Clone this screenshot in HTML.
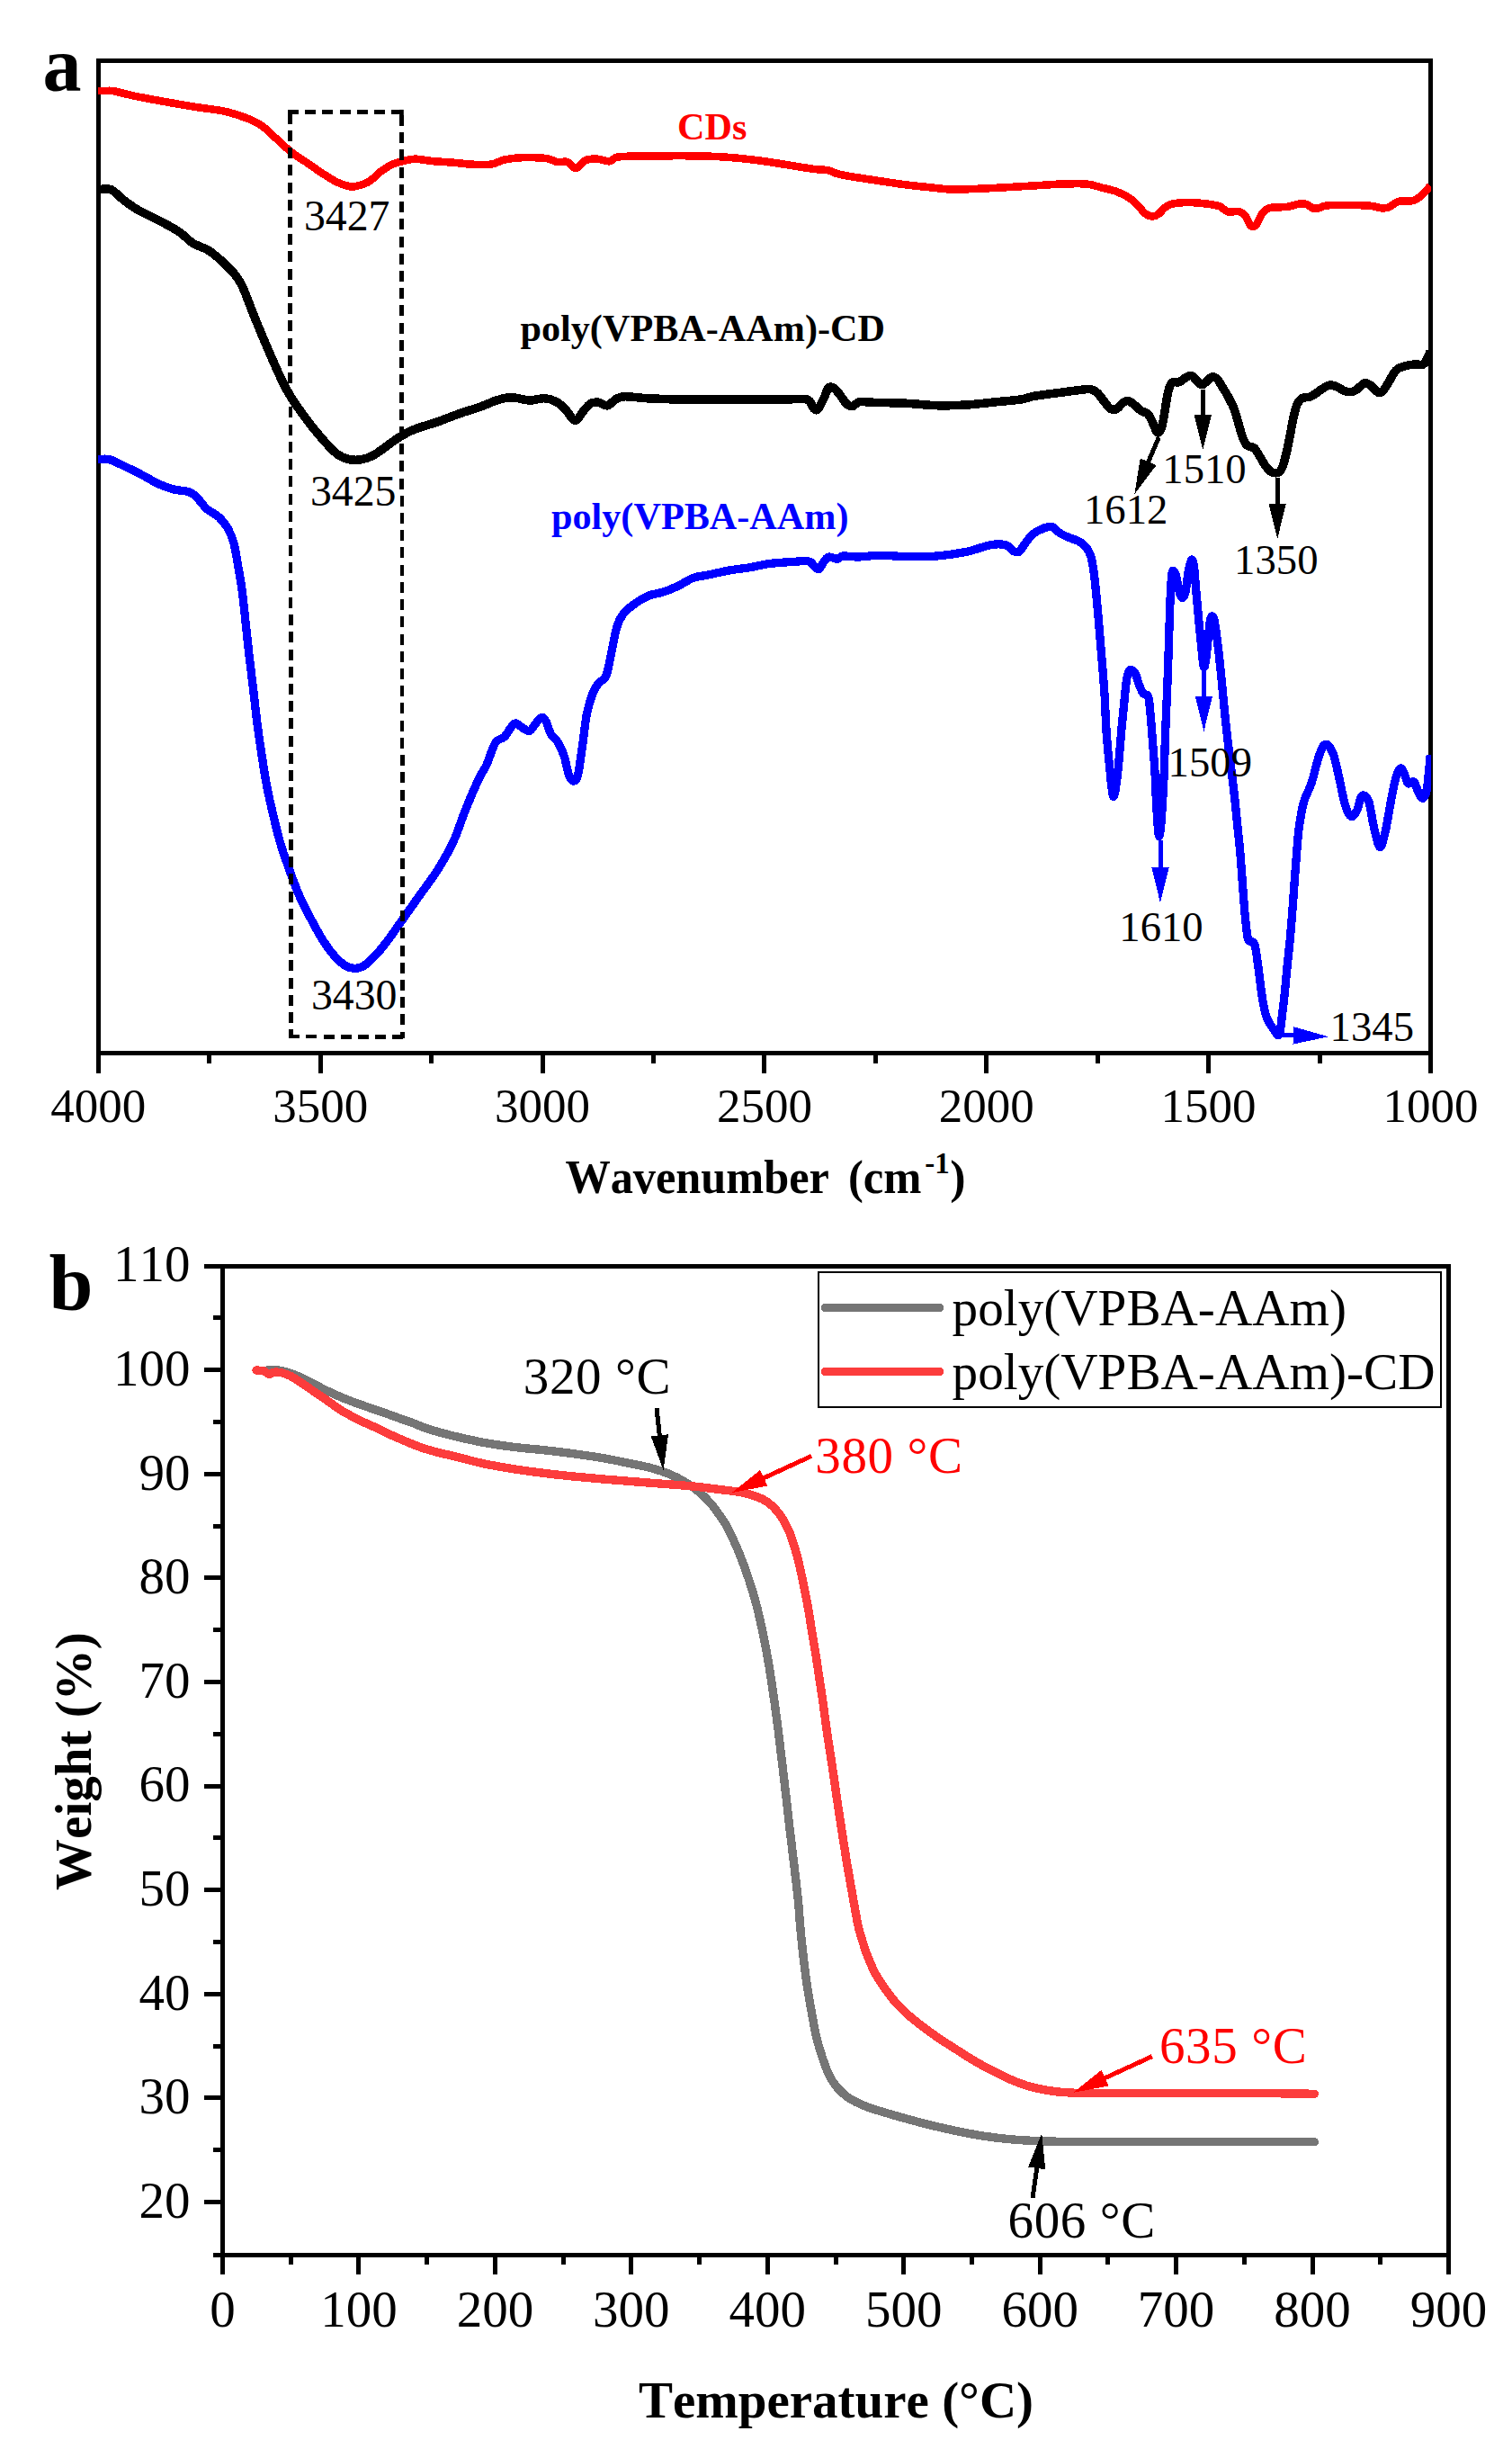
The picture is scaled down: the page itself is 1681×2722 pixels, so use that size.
<!DOCTYPE html>
<html lang="en"><head><meta charset="utf-8"><title>FTIR and TGA</title>
<style>html,body{margin:0;padding:0;background:#fff}svg{display:block}</style></head>
<body>
<svg width="1681" height="2722" viewBox="0 0 1681 2722">
<rect width="1681" height="2722" fill="#fff"/>
<rect x="109.5" y="67.5" width="1481" height="1102.5" fill="none" stroke="#000" stroke-width="5" shape-rendering="crispEdges"/>
<path d="M109.5,1170 V1193 M232.7,1170 V1182 M356.2,1170 V1193 M479.6,1170 V1182 M603,1170 V1193 M726.5,1170 V1182 M849.9,1170 V1193 M973.3,1170 V1182 M1096.8,1170 V1193 M1220.2,1170 V1182 M1343.6,1170 V1193 M1467.1,1170 V1182 M1590.5,1170 V1193" stroke="#000" stroke-width="5" fill="none" shape-rendering="crispEdges"/>
<g fill="none" stroke-linejoin="round" stroke-linecap="butt" shape-rendering="crispEdges">
<clipPath id="ca"><rect x="108.9" y="67.5" width="1482.2" height="1102.5"/></clipPath>
<g clip-path="url(#ca)">
<path d="M109.3,100.9C110.8,100.9 115.1,100.8 118,100.9C120.9,101 121.4,100.3 126.7,101.3C132,102.3 140.6,104.8 150,106.8C159.4,108.8 171.9,111 183,113C194.1,115 205.5,117 216.7,118.8C227.9,120.6 240.6,121.8 250,123.8C259.4,125.8 266.6,128.5 273.3,131C280,133.5 284.4,135.2 290,139C295.6,142.8 301.1,148.8 306.7,153.7C312.2,158.6 317.8,164.2 323.3,168.6C328.9,173 334.4,176.2 340,180C345.6,183.8 351.1,187.9 356.7,191.5C362.2,195.1 368.3,199.3 373.3,201.8C378.3,204.3 383.2,205.8 386.7,206.7C390.1,207.6 390.1,208.1 394,207.3C397.9,206.5 405.1,204.8 410,202C414.9,199.2 418.9,193.8 423.3,190.5C427.8,187.2 432.5,184.4 436.7,182.5C440.9,180.6 444.1,180 448.3,179C452.5,178 456.4,176.7 461.7,176.7C467,176.7 472.9,178.3 480,179C487.1,179.7 496.7,180.1 504,180.7C511.3,181.3 517,182.4 524,182.7C531,183 539.6,183.5 545.7,182.7C551.8,181.8 555.4,178.8 560.7,177.6C566,176.4 569.5,175.6 577.3,175.3C585.1,175 600.3,175.2 607.3,176C614.2,176.8 615.1,179.3 619,180C622.9,180.7 627.7,179 630.7,180C633.8,181 635.4,185 637.3,186C639.2,187 640.1,187.3 642.3,186C644.5,184.7 647.1,179.9 650.7,178.3C654.3,176.8 659.6,176.5 664,176.7C668.4,176.9 673.7,179.6 677.3,179.3C680.9,179 681.2,175.8 685.7,174.8C690.2,173.9 695.4,173.8 704,173.6C712.6,173.3 726.2,173.4 737.3,173.3C748.4,173.2 759.6,173.1 770.7,173.3C781.8,173.5 792.9,173.7 804,174.4C815.1,175.1 826.2,176.2 837.3,177.6C848.4,178.9 859.6,180.8 870.7,182.5C881.8,184.2 895.7,186.7 904,187.8C912.3,188.9 915.7,188.3 920.7,189.3C925.7,190.3 925.7,192.2 934,194C942.3,195.8 958.4,198.1 970.7,200C983,201.9 997.3,204.1 1008,205.5C1018.7,206.9 1026.4,207.5 1034.7,208.3C1043,209.2 1049.7,210.3 1058,210.6C1066.3,210.9 1073.6,210.3 1084.7,209.9C1095.8,209.5 1112.5,208.6 1124.7,207.9C1136.9,207.2 1148.6,206.5 1158,205.9C1167.4,205.3 1173,204.7 1181.3,204.5C1189.6,204.3 1200.8,203.8 1208,204.5C1215.2,205.2 1219.2,207.1 1224.7,208.5C1230.2,209.9 1236.3,211.1 1241.3,212.9C1246.3,214.7 1250.8,217 1254.7,219.5C1258.6,222 1261.7,225 1264.7,227.9C1267.8,230.8 1270.2,235.1 1273,237.2C1275.8,239.3 1278.8,240.4 1281.3,240.5C1283.8,240.6 1285.8,239.5 1288,237.9C1290.2,236.3 1292.5,233 1294.7,231.2C1296.9,229.4 1298,228.2 1301.3,227.2C1304.6,226.2 1309.7,225.5 1314.7,225.2C1319.7,224.9 1324.6,224.9 1331.3,225.5C1338,226.1 1349.1,227.3 1354.7,228.9C1360.3,230.5 1360.8,234.1 1364.7,235.2C1368.6,236.2 1374.7,234.3 1378,235.2C1381.3,236.1 1382.8,238.1 1384.7,240.5C1386.7,242.9 1388.3,247.9 1389.7,249.8C1391.1,251.8 1391.7,252.4 1393,252.2C1394.3,252 1395.6,251.2 1397.3,248.8C1399,246.4 1400.7,240.7 1403,237.8C1405.3,234.9 1406.6,232.5 1411.3,231.2C1416,229.9 1425.7,230.6 1431.3,229.8C1436.9,229 1441.1,226.9 1444.7,226.5C1448.3,226.1 1450.5,226.4 1453,227.2C1455.5,228 1457.5,230.8 1459.7,231.5C1461.9,232.2 1463.8,231.7 1466.3,231.2C1468.8,230.7 1470.1,229.1 1474.7,228.5C1479.3,227.9 1485.5,227.8 1493.7,227.8C1501.9,227.9 1516.8,228.2 1523.7,228.8C1530.6,229.4 1532,230.9 1535.3,231.2C1538.6,231.5 1540.4,231.7 1543.7,230.5C1547,229.3 1550.9,225 1555.3,223.8C1559.7,222.6 1566.4,224 1570.3,223.2C1574.2,222.4 1575.4,221.6 1578.7,218.8C1582,216 1588.4,208.6 1590.3,206.5" stroke="#ff0000" stroke-width="8.6"/>
<path d="M109.3,210.7C111.6,210.7 118.7,208.9 123.3,210.7C127.9,212.5 131.7,217.9 136.7,221.7C141.7,225.5 146.1,229.1 153.3,233.3C160.5,237.5 172.2,242.5 180,246.7C187.8,250.9 194.2,254.3 200,258.3C205.8,262.3 209.4,267.2 215,270.7C220.6,274.2 226.4,274.4 233.3,279.3C240.2,284.2 250.8,293.8 256.7,300C262.6,306.2 264.5,308.4 268.7,316.7C272.9,325 277,337.8 282,350C287,362.2 292.6,376.1 298.7,390C304.8,403.9 312,421.1 318.7,433.3C325.4,445.5 332,454.1 338.7,463.3C345.4,472.5 352.6,481.4 358.7,488.3C364.8,495.2 370.3,501.3 375.3,505C380.3,508.7 384.2,509.8 388.7,510.7C393.1,511.6 397.6,511.5 402,510.7C406.4,509.9 410.9,508.3 415.3,506C419.8,503.7 423.7,500.2 428.7,496.7C433.7,493.2 439.8,488.3 445.3,485C450.9,481.7 455.3,479.3 462,476.7C468.7,474.1 477,472.2 485.3,469.3C493.6,466.4 503.7,462.2 512,459.3C520.3,456.4 528.6,454.1 535.3,451.7C542,449.3 546.4,446.7 552,445C557.6,443.3 562.6,441.7 568.7,441.7C574.8,441.7 582.6,444.8 588.7,445C594.8,445.2 600.3,442.4 605.3,442.7C610.3,443 614.8,444.6 618.7,446.7C622.6,448.8 625.7,451.8 628.7,455C631.8,458.2 634.8,464.2 637,466C639.2,467.8 640,467.6 642,466C644,464.4 646.2,459.6 648.7,456.7C651.2,453.8 654.2,449.9 657,448.3C659.8,446.7 662.2,446.9 665.3,447.3C668.3,447.7 672,451.4 675.3,450.7C678.6,450 682,445 685.3,443.3C688.6,441.6 689.7,440.8 695.3,440.7C700.9,440.6 708.6,442.1 718.7,442.7C728.8,443.2 741.8,443.8 756,444C770.2,444.2 784.9,444 804,444C823.1,444 855.2,444 870.7,444C886.2,444 891.8,442.4 897.3,444C902.8,445.6 902,451.5 904,453.3C906,455.1 907,456.7 909,455C911,453.3 913.8,447.2 915.7,443.3C917.7,439.4 919,433.8 920.7,431.7C922.4,429.6 923.8,429.9 925.7,430.7C927.6,431.5 929.8,433.8 932.3,436.7C934.8,439.6 938.2,445.8 940.7,448.3C943.2,450.8 944.8,452 947.3,451.7C949.8,451.4 951.8,447.4 955.7,446.7C959.6,446 962,447 970.7,447.3C979.4,447.6 996.2,447.7 1008,448.3C1019.8,448.9 1030.2,450.4 1041.3,450.7C1052.4,451 1063.6,450.7 1074.7,450C1085.8,449.3 1098,447.7 1108,446.7C1118,445.7 1127.5,445.1 1134.7,444C1141.9,442.9 1143.5,441.3 1151.3,440C1159.1,438.7 1173.2,437.1 1181.3,436C1189.4,434.9 1194.9,434.2 1200,433.6C1205.1,433 1208.6,432.1 1211.9,432.6C1215.2,433.1 1217.2,434.2 1219.8,436.5C1222.4,438.8 1225.3,443.5 1227.8,446.5C1230.3,449.5 1232.4,453.1 1234.7,454.4C1237,455.7 1239.4,455.5 1241.7,454.4C1244,453.2 1246.4,449 1248.6,447.5C1250.8,446 1252.4,445 1254.6,445.5C1256.8,446 1259.2,448.6 1261.5,450.4C1263.8,452.2 1266,454.7 1268.5,456.4C1271,458.1 1274.3,458.2 1276.4,460.4C1278.5,462.5 1279.7,466 1281.3,469.3C1282.9,472.6 1284.8,478.7 1286.3,480.2C1287.8,481.7 1289.1,480.3 1290.3,478.2C1291.5,476.1 1292.3,472.1 1293.3,467.3C1294.3,462.5 1295.2,455 1296.2,449.4C1297.2,443.8 1298,437.6 1299.2,433.6C1300.4,429.6 1301.2,426.7 1303.2,425.2C1305.2,423.7 1308.6,425.5 1311.1,424.6C1313.6,423.7 1315.8,420.9 1318.1,419.7C1320.4,418.5 1323,417.2 1325,417.7C1327,418.2 1328.2,421 1330,422.7C1331.8,424.4 1334.1,427.3 1335.9,427.6C1337.7,427.9 1339.1,426 1340.9,424.6C1342.7,423.2 1344.8,420 1346.8,419.3C1348.8,418.6 1350.8,419 1352.8,420.7C1354.8,422.4 1356.5,426.1 1358.7,429.6C1360.9,433.1 1363.6,437.5 1365.7,441.5C1367.8,445.5 1369.8,448.8 1371.6,453.4C1373.4,458 1374.9,463.8 1376.6,469.3C1378.2,474.8 1379.8,481.9 1381.5,486.2C1383.2,490.5 1384.3,493.1 1386.5,495.1C1388.7,497.1 1392.1,496.1 1394.4,498.1C1396.7,500.1 1398.4,503.9 1400.4,507C1402.4,510.1 1404.3,514.1 1406.3,516.9C1408.3,519.7 1410.3,522.3 1412.3,523.8C1414.3,525.3 1416.5,525.8 1418.3,525.8C1420.1,525.8 1421.7,525.6 1423.2,523.8C1424.7,522 1425.9,519 1427.2,514.9C1428.5,510.8 1429.9,504.9 1431.2,499C1432.5,493.1 1433.8,485.8 1435.1,479.2C1436.4,472.6 1437.8,464.7 1439.1,459.4C1440.4,454.1 1441.6,450.3 1443.1,447.5C1444.6,444.7 1445.5,443.7 1448,442.5C1450.5,441.3 1454.6,442 1457.9,440.5C1461.2,439 1464.6,435.7 1467.9,433.6C1471.2,431.6 1474.8,428.9 1477.8,428.2C1480.8,427.5 1483,428.6 1485.7,429.6C1488.4,430.6 1491.3,433 1493.7,434C1496.1,435 1497.8,435.6 1500,435.6C1502.2,435.6 1504.2,435.6 1507,434C1509.8,432.4 1514.2,426.9 1517,426C1519.8,425.1 1521.2,426.6 1523.7,428.3C1526.2,430 1529.8,434.9 1532,436C1534.2,437.1 1535,436.8 1537,435C1539,433.2 1541.2,428.9 1543.7,425C1546.2,421.1 1549.2,414.6 1552,411.7C1554.8,408.8 1557,408.4 1560.3,407.3C1563.6,406.2 1568.4,405.4 1572,405C1575.6,404.6 1579.5,406.1 1582,405C1584.5,403.9 1585.6,400.8 1587,398.3C1588.4,395.8 1589.8,391.4 1590.3,390" stroke="#000" stroke-width="9.6"/>
<path d="M109.3,510.7C111.4,510.7 116.6,509.3 121.7,510.7C126.8,512.1 133.6,516 140,519C146.4,522 153.9,525.8 160,529C166.1,532.2 171.1,535.5 176.7,538C182.2,540.5 187.8,542.5 193.3,544C198.9,545.5 205.8,545.3 210,546.7C214.2,548.1 215,549.1 218.3,552.3C221.6,555.5 225.8,562 230,565.7C234.2,569.4 239.4,571.1 243.3,574.7C247.2,578.3 250.5,582.4 253.3,587.3C256.1,592.2 258.1,596.8 260,604C261.9,611.2 263.4,621.8 265,630.7C266.6,639.6 267.9,646.8 269.3,657.3C270.7,667.8 272,681.8 273.3,694C274.6,706.2 275.9,718.5 277.3,730.7C278.7,742.9 280.2,755.1 281.7,767.3C283.1,779.5 284.5,792.3 286,804C287.5,815.7 288.9,825.6 290.7,837.3C292.5,849 294.6,862.9 296.7,874C298.8,885.1 300.8,893.5 303.3,904C305.8,914.5 308.6,926.8 311.7,937.3C314.8,947.8 318.1,956.8 321.7,966.7C325.3,976.6 329.1,987.3 333.3,996.7C337.5,1006.1 342.2,1015 346.7,1023.3C351.1,1031.6 355.7,1040 360,1046.7C364.3,1053.4 368.6,1058.9 372.5,1063.3C376.4,1067.7 380,1070.8 383.5,1073C387,1075.2 390.3,1076.1 393.7,1076.3C397.1,1076.5 400,1076.2 403.7,1074C407.4,1071.8 411.6,1067.8 416,1063.3C420.4,1058.8 424.9,1053.4 430,1046.7C435.1,1040 440.6,1031.9 446.7,1023.3C452.8,1014.7 460,1004.4 466.7,995C473.4,985.6 480.5,976.6 486.7,966.7C492.9,956.8 498.9,946.5 504,935.5C509.1,924.5 512.6,912.3 517.3,900.7C522,889.1 528.4,874 532.3,865.7C536.2,857.4 537.6,857.4 540.7,850.7C543.8,844 547.4,831 550.7,825.7C554,820.4 557.7,822.1 560.7,819C563.8,815.9 566.8,809.8 569,807.3C571.2,804.8 571.8,803.5 574,804C576.2,804.5 579.8,808.6 582.3,810C584.8,811.4 586.8,813.3 589,812.3C591.2,811.3 593.5,806.5 595.7,804C597.9,801.5 600.4,797.6 602.3,797.3C604.2,797 605.6,799.2 607.3,802.3C609,805.4 610.1,811.8 612.3,815.7C614.5,819.6 618.2,821.5 620.7,825.7C623.2,829.9 625.4,834.9 627.3,840.7C629.2,846.5 630.6,856.2 632.3,860.7C634,865.2 635.6,867.7 637.3,868C639,868.3 640.6,868.5 642.3,862.3C644,856.1 645.6,842.1 647.3,830.7C649,819.3 650.3,804 652.3,794C654.2,784 656.8,776.5 659,770.7C661.2,764.9 663.2,762.3 665.7,759C668.2,755.7 671.5,757.1 674,750.7C676.5,744.3 678.8,729.6 680.7,720.7C682.7,711.8 683.8,703.5 685.7,697.3C687.6,691.1 689.2,687.5 692.3,683.3C695.3,679.1 699.3,675.8 704,672.3C708.7,668.8 715.2,664.7 720.7,662.3C726.2,659.9 731.8,659.8 737.3,658C742.8,656.2 748.4,653.9 754,651.3C759.6,648.7 765.2,644.3 770.7,642.3C776.2,640.2 780.6,640.4 787.3,639C794,637.6 802.9,635.4 810.7,634C818.5,632.6 826.8,631.9 834,630.7C841.2,629.5 846.8,627.7 854,626.7C861.2,625.7 869.8,625.2 877.3,624.7C884.8,624.2 894.3,623.1 899,624C903.7,624.9 903.8,628.6 905.7,630C907.7,631.4 908.8,633.6 910.7,632.3C912.6,631 915.4,624.5 917.3,622.3C919.2,620.1 920.1,619.2 922.3,619C924.5,618.8 928.2,621.5 930.7,621.3C933.2,621.1 933.4,618.4 937.3,618C941.2,617.6 947.3,619.1 954,619C960.7,618.9 968.3,617.4 977.3,617.3C986.3,617.2 997.3,618.4 1008,618.5C1018.7,618.6 1030.2,618.9 1041.3,618C1052.4,617.1 1064.7,615.3 1074.7,613.3C1084.7,611.2 1094.1,607 1101.3,605.7C1108.5,604.4 1113.8,604.6 1118,605.7C1122.2,606.8 1123.8,611 1126.3,612.3C1128.8,613.6 1130.8,614.7 1133,613.3C1135.2,611.9 1137.2,607.2 1139.7,604C1142.2,600.8 1144.7,596.8 1148,594C1151.3,591.2 1156.1,588.7 1159.7,587.3C1163.3,585.9 1166.7,584.9 1169.7,585.7C1172.8,586.5 1175,590.4 1178,592.3C1181,594.2 1184.4,595.7 1188,597.3C1191.6,598.9 1196.2,599.9 1199.5,601.7C1202.8,603.5 1205.2,605.2 1207.5,608.1C1209.8,611 1211.5,614.4 1213,619.2C1214.5,624 1215.3,630.1 1216.2,636.7C1217.1,643.3 1217.8,651 1218.6,658.9C1219.4,666.8 1220.2,675.3 1221,684.3C1221.8,693.3 1222.5,703.4 1223.3,712.9C1224.1,722.4 1224.9,731.3 1225.7,741.4C1226.5,751.5 1227.3,760.9 1228.1,773.2C1228.8,785.5 1229.3,801.6 1230.2,815C1231.1,828.4 1232.7,843.4 1233.7,853.5C1234.7,863.6 1235.3,870.4 1236,875.7C1236.7,881 1236.9,884.7 1237.6,885.2C1238.3,885.7 1239.1,884.2 1240,878.9C1240.9,873.6 1242.1,864.1 1243.2,853.5C1244.3,842.9 1245.5,826.5 1246.5,815C1247.5,803.5 1248.6,793.4 1249.5,784.3C1250.4,775.2 1251.1,766.6 1251.9,760.5C1252.7,754.4 1253.4,750.4 1254.3,747.8C1255.2,745.1 1256.2,744.5 1257.5,744.6C1258.8,744.7 1260.8,746 1262.2,748.6C1263.7,751.2 1264.7,756.8 1266.2,760.5C1267.7,764.2 1269.3,768.5 1271,770.8C1272.7,773 1275.2,770.4 1276.5,774C1277.8,777.6 1278.1,784.2 1278.9,792.2C1279.7,800.2 1280.5,811.5 1281.3,821.7C1282.1,831.9 1283,842.9 1283.7,853.5C1284.4,864.1 1284.6,874.6 1285.2,885.2C1285.8,895.8 1286.5,909.6 1287.1,917C1287.7,924.4 1288.1,929.7 1288.7,929.7C1289.3,929.7 1290.1,924.4 1290.8,917C1291.5,909.6 1292.3,895.8 1292.9,885.2C1293.5,874.6 1294,865.2 1294.4,853.5C1294.9,841.8 1295,830.5 1295.6,815C1296.2,799.5 1297.2,777.5 1297.9,760.5C1298.6,743.5 1299,728.8 1299.5,712.9C1300,697 1300.6,677.4 1301.1,665.2C1301.6,653 1302.1,644.9 1302.7,639.8C1303.3,634.6 1303.8,634.3 1304.6,634.3C1305.4,634.3 1306.5,636.2 1307.5,639.8C1308.5,643.4 1309.5,651.6 1310.6,655.7C1311.7,659.8 1312.9,663.9 1314.1,664.4C1315.3,664.9 1316.6,663.5 1317.8,658.9C1319,654.3 1319.9,642.8 1321,636.7C1322.1,630.6 1323.5,623.7 1324.6,622.4C1325.6,621.1 1326.4,623.2 1327.3,628.7C1328.2,634.2 1328.8,645.4 1329.7,655.7C1330.6,666 1331.9,679.5 1332.9,690.6C1334,701.7 1335.1,713.9 1336,722.4C1336.9,730.9 1337.6,739.8 1338.4,741.4C1339.2,743 1340,737.2 1340.8,731.9C1341.6,726.6 1342.4,716.9 1343.2,709.7C1344,702.6 1344.8,693.1 1345.6,689C1346.4,684.9 1347.1,684.8 1347.9,685.1C1348.7,685.4 1349.4,686 1350.3,690.6C1351.2,695.2 1352.4,704.4 1353.5,712.9C1354.6,721.4 1355.7,731.3 1356.7,741.4C1357.8,751.5 1358.7,761.8 1359.8,773.2C1360.9,784.6 1362,796.6 1363.5,810C1365,823.4 1367.1,841 1368.6,853.5C1370.1,866 1371.3,874.6 1372.5,885.2C1373.7,895.8 1374.6,906.4 1375.7,917C1376.8,927.6 1378,938.1 1378.9,948.7C1379.8,959.3 1380.5,969.9 1381.3,980.5C1382.1,991.1 1383,1004 1383.7,1012.2C1384.4,1020.5 1384.8,1024.5 1385.5,1030C1386.2,1035.5 1386.5,1041.8 1388,1045C1389.5,1048.2 1392.9,1044.6 1394.7,1049.3C1396.5,1054 1397.3,1063.7 1398.7,1073.3C1400.1,1082.9 1401.5,1097.2 1403,1106.7C1404.5,1116.2 1405.8,1123.7 1408,1130C1410.2,1136.3 1413.9,1141.2 1416.3,1144.5C1418.7,1147.8 1420.7,1152.8 1422.3,1149.6C1423.9,1146.3 1424.8,1132.4 1425.8,1125C1426.8,1117.6 1427.3,1113.3 1428.2,1105C1429.1,1096.7 1430,1085.2 1431,1075C1432,1064.8 1433.3,1054.3 1434.3,1043.5C1435.3,1032.7 1436.2,1020.6 1437,1010C1437.8,999.4 1438.4,991.1 1439.2,980C1440,968.9 1441.1,953.8 1442,943.3C1442.9,932.8 1443.3,926.1 1444.6,917.3C1445.9,908.5 1447.5,898.5 1449.7,890.7C1451.9,882.9 1455.2,879 1458,870.7C1460.8,862.4 1463.7,847.9 1466.3,840.7C1468.9,833.5 1470.9,827.9 1473.5,827.3C1476.1,826.7 1479.5,831.2 1482,837.3C1484.5,843.4 1486.5,854.5 1488.7,864C1490.9,873.5 1493.1,886.8 1495.3,894C1497.5,901.2 1499.8,906.2 1502,907.3C1504.2,908.4 1506.9,904.2 1508.7,900.7C1510.5,897.2 1511.6,889.2 1513,886.5C1514.4,883.8 1515.5,883.5 1517,884.3C1518.5,885.1 1520.3,886 1522,891.5C1523.7,897 1525.3,909.7 1527,917.3C1528.7,924.9 1530.6,933.4 1532,937.3C1533.4,941.2 1533.9,942.9 1535.3,940.7C1536.7,938.5 1538.3,932.9 1540.3,924C1542.2,915.1 1545,897.3 1547,887.3C1549,877.3 1550.3,869.5 1552,864C1553.7,858.5 1555.5,854.8 1557,854C1558.5,853.2 1559.6,856.2 1561,859C1562.4,861.8 1563.5,869 1565.3,870.7C1567.1,872.4 1570,867.3 1572,869C1574,870.7 1575.3,877.7 1577,880.7C1578.7,883.8 1580.5,887.9 1582,887.3C1583.5,886.7 1584.9,885.3 1586.3,877.3C1587.7,869.2 1589.6,845.4 1590.3,839" stroke="#0000ff" stroke-width="9.3"/>
</g>
</g>
<g stroke="#000" stroke-width="4.7" fill="none" shape-rendering="crispEdges">
<line x1="320" y1="124.2" x2="448.7" y2="124.2" stroke-dasharray="12 7.2"/>
<line x1="322.5" y1="125.7" x2="323.7" y2="1154" stroke-dasharray="12 7.22"/>
<line x1="446.4" y1="128" x2="447.5" y2="1154.5" stroke-dasharray="12 7.22"/>
<line x1="321.3" y1="1152" x2="449.8" y2="1152.6" stroke-dasharray="12 7.2"/>
</g>
<rect x="444.1" y="121.9" width="4.7" height="8" fill="#000"/>
<g font-family="'Liberation Serif', serif" style="font-kerning:none" fill="#000">
<g font-size="53" text-anchor="middle">
<text x="109.3" y="1246.7">4000</text>
<text x="356.2" y="1246.7">3500</text>
<text x="603" y="1246.7">3000</text>
<text x="849.9" y="1246.7">2500</text>
<text x="1096.8" y="1246.7">2000</text>
<text x="1343.6" y="1246.7">1500</text>
<text x="1590.5" y="1246.7">1000</text>
</g>
<g font-size="52" font-weight="bold">
<text x="628.4" y="1325.5" textLength="293.5" lengthAdjust="spacingAndGlyphs">Wavenumber</text>
<text x="943" y="1325.5" textLength="81.5" lengthAdjust="spacingAndGlyphs">(cm</text>
<text x="1028.2" y="1303.5" font-size="33">-1</text>
<text x="1056.3" y="1325.5">)</text>
</g>
<text x="47.5" y="101.2" font-size="86" font-weight="bold">a</text>
<text x="54.5" y="1456.3" font-size="88" font-weight="bold">b</text>
<g font-size="46.7" text-anchor="middle">
<text x="385.7" y="256" font-size="47.8">3427</text>
<text x="392.7" y="562" font-size="47.8">3425</text>
<text x="393.7" y="1121.7" font-size="47.8">3430</text>
<text x="1251.7" y="582">1612</text>
<text x="1339" y="536.7">1510</text>
<text x="1418.8" y="637.5">1350</text>
<text x="1345.3" y="863">1509</text>
<text x="1291" y="1046">1610</text>
<text x="1525.3" y="1157.3">1345</text>
</g>
<g font-size="42.2" font-weight="bold">
<text x="753" y="155.2" fill="#ff0000">CDs</text>
<text x="578.5" y="378.8">poly(VPBA-AAm)-CD</text>
<text x="613" y="588" fill="#0000ff">poly(VPBA-AAm)</text>
</g>
</g>
<line x1="1337.3" y1="432.6" x2="1337.3" y2="463.2" stroke="#000" stroke-width="5" shape-rendering="crispEdges"/><polygon points="1337.3,500.3 1327.6,461.2 1347,461.2" fill="#000" shape-rendering="crispEdges"/>
<line x1="1420.2" y1="530.8" x2="1420.2" y2="561.8" stroke="#000" stroke-width="5" shape-rendering="crispEdges"/><polygon points="1420.2,598.9 1410.5,559.8 1429.9,559.8" fill="#000" shape-rendering="crispEdges"/>
<line x1="1288.3" y1="486.2" x2="1275.9" y2="515.1" stroke="#000" stroke-width="5" shape-rendering="crispEdges"/><polygon points="1261.3,549.2 1267.8,509.4 1285.6,517.1" fill="#000" shape-rendering="crispEdges"/>
<line x1="1338.4" y1="744" x2="1338.4" y2="775.9" stroke="#0000ff" stroke-width="5" shape-rendering="crispEdges"/><polygon points="1338.4,813 1328.7,773.9 1348.1,773.9" fill="#0000ff" shape-rendering="crispEdges"/>
<line x1="1290" y1="934.4" x2="1290" y2="966.4" stroke="#0000ff" stroke-width="5" shape-rendering="crispEdges"/><polygon points="1290,1003.5 1280.3,964.4 1299.7,964.4" fill="#0000ff" shape-rendering="crispEdges"/>
<line x1="1421" y1="1150.3" x2="1439.8" y2="1151" stroke="#0000ff" stroke-width="5" shape-rendering="crispEdges"/><polygon points="1476.9,1152.3 1437.5,1160.6 1438.2,1141.2" fill="#0000ff" shape-rendering="crispEdges"/>
<g fill="none" stroke-linejoin="round" stroke-linecap="round" stroke-width="9.4" shape-rendering="crispEdges">
<path d="M298,1522.7C300.1,1522.8 306.1,1522.5 310.3,1523.1C314.6,1523.7 319.5,1525.1 323.5,1526.4C327.5,1527.7 330.6,1529.3 334.1,1531C337.6,1532.7 341.2,1534.5 344.7,1536.3C348.2,1538.1 351.7,1539.8 355.2,1541.6C358.7,1543.4 361.8,1545 365.8,1546.9C369.8,1548.8 374.6,1550.9 379,1552.8C383.4,1554.7 387.9,1556.4 392.3,1558.1C396.7,1559.8 401.1,1561.2 405.5,1562.8C409.9,1564.3 414.3,1565.9 418.7,1567.4C423.1,1568.9 427.6,1570.4 432,1572C436.4,1573.6 440.5,1575.1 445.2,1576.8C449.9,1578.5 454.8,1580 460,1582C465.2,1584 469.4,1586.2 476.7,1588.5C484,1590.8 493.9,1593.5 504,1596C514.1,1598.5 526.2,1601.2 537.3,1603.3C548.4,1605.3 559.6,1606.9 570.7,1608.3C581.8,1609.7 592.9,1610.5 604,1611.7C615.1,1612.9 626.2,1614.2 637.3,1615.7C648.4,1617.2 659.6,1618.8 670.7,1620.7C681.8,1622.6 695.1,1625.5 704,1627.3C712.9,1629.1 717.3,1629.9 724,1631.7C730.7,1633.5 737.9,1635.8 744,1638.3C750.1,1640.8 755.2,1643.4 760.7,1646.7C766.2,1650 772.3,1654.1 777.3,1658.3C782.3,1662.5 786.2,1666.4 790.7,1671.7C795.2,1677 800.8,1685.3 804,1690C807.2,1694.7 807,1693.7 810,1700C813,1706.3 818.6,1718.4 822.3,1727.6C826,1736.8 829.3,1745.9 832.4,1755.1C835.5,1764.3 838.2,1773.5 840.7,1782.7C843.2,1791.9 845.1,1801.1 847.1,1810.3C849.1,1819.5 850.9,1828.7 852.6,1837.9C854.3,1847.1 855.8,1856.2 857.2,1865.4C858.6,1874.6 859.9,1883.8 861.2,1893C862.5,1902.2 863.7,1911.4 864.9,1920.6C866.1,1929.8 867.1,1939 868.2,1948.2C869.3,1957.4 870.4,1966.5 871.5,1975.7C872.6,1984.9 873.7,1994.1 874.7,2003.3C875.8,2012.5 876.7,2021.7 877.8,2030.9C878.9,2040.1 880,2049.3 881.1,2058.5C882.2,2067.7 883.3,2076.8 884.4,2086C885.5,2095.2 886.6,2104.6 887.5,2113.6C888.4,2122.6 888.7,2130.3 889.6,2140C890.5,2149.7 891.6,2161.1 892.8,2171.7C894,2182.3 895.2,2192.9 896.8,2203.5C898.3,2214.1 900.3,2225.1 902.1,2235.2C903.9,2245.2 905.6,2255.3 907.6,2263.8C909.6,2272.3 911.6,2278.8 914,2286C916.4,2293.2 919,2300.9 921.9,2306.7C924.8,2312.5 927.7,2316.8 931.4,2321C935.1,2325.2 939.1,2328.8 944.1,2332.1C949.1,2335.4 955.5,2338.3 961.6,2340.8C967.7,2343.3 974.2,2345.1 980.6,2347.1C987,2349.1 991.5,2350.4 1000,2352.8C1008.5,2355.2 1021.1,2358.7 1031.7,2361.3C1042.3,2363.9 1052.9,2366.4 1063.5,2368.6C1074.1,2370.8 1084.6,2372.8 1095.2,2374.4C1105.8,2376 1116.4,2377.2 1127,2378.1C1137.6,2379 1148.2,2379.4 1158.7,2379.8C1169.2,2380.2 1176.2,2380.3 1190,2380.5C1203.8,2380.7 1214.6,2380.7 1241.3,2380.7C1268,2380.7 1313.3,2380.7 1350,2380.7C1386.7,2380.7 1442.8,2380.7 1461.3,2380.7" stroke="#757575"/>
<path d="M285.1,1523.1C286.4,1523.2 290.8,1523 293.1,1523.7C295.4,1524.4 297,1527 299,1527.2C301,1527.5 302.7,1525.5 305,1525.2C307.3,1525 309.8,1525 312.9,1525.7C316,1526.5 320,1527.9 323.5,1529.7C327,1531.5 330.6,1534 334.1,1536.3C337.6,1538.6 341.2,1541.2 344.7,1543.6C348.2,1546 351.7,1548.4 355.2,1550.8C358.7,1553.2 361.8,1555.3 365.8,1558.1C369.8,1560.9 374.6,1564.6 379,1567.4C383.4,1570.2 387.9,1572.4 392.3,1574.7C396.7,1577 401.1,1579.2 405.5,1581.3C409.9,1583.4 412.9,1584.5 418.7,1587.2C424.4,1589.9 432,1593.8 440,1597.3C448,1600.8 458.9,1605.5 466.7,1608.3C474.5,1611.1 480.5,1612.6 486.7,1614.3C492.9,1616 495.6,1616.2 504,1618.3C512.4,1620.4 526.2,1624.3 537.3,1626.7C548.4,1629.1 559.6,1630.9 570.7,1632.7C581.8,1634.5 592.9,1635.9 604,1637.3C615.1,1638.7 626.2,1639.9 637.3,1641C648.4,1642.1 659.6,1643 670.7,1644C681.8,1645 692.9,1645.8 704,1646.7C715.1,1647.6 726.2,1648.4 737.3,1649.3C748.4,1650.2 759.6,1650.9 770.7,1652C781.8,1653.1 795.1,1654.9 804,1656C812.9,1657.1 817.9,1657.5 824,1658.7C830.1,1659.9 835.7,1661.4 840.7,1663.3C845.7,1665.2 849.8,1666.9 854,1670C858.2,1673.1 862,1676.7 865.7,1681.7C869.5,1686.7 873.2,1692.3 876.5,1700C879.8,1707.7 883.1,1718.4 885.7,1727.6C888.3,1736.8 890.1,1745.9 892.1,1755.1C894.1,1764.3 895.9,1773.5 897.6,1782.7C899.3,1791.9 900.7,1801.1 902.2,1810.3C903.7,1819.5 905.3,1828.7 906.8,1837.9C908.2,1847.1 909.5,1856.2 910.9,1865.4C912.3,1874.6 913.8,1883.8 915.1,1893C916.4,1902.2 917.5,1911.4 918.8,1920.6C920.1,1929.8 921.6,1939 923,1948.2C924.4,1957.4 925.8,1966.5 927.1,1975.7C928.5,1984.9 929.7,1994.1 931.1,2003.3C932.5,2012.5 933.9,2021.7 935.3,2030.9C936.7,2040.1 938.1,2049.3 939.6,2058.5C941.1,2067.7 942.6,2076.8 944.2,2086C945.8,2095.2 947.5,2104.6 949.1,2113.6C950.7,2122.6 952.5,2132.9 954,2140C955.5,2147.1 956.6,2150.1 958.4,2155.9C960.2,2161.7 962.1,2168.3 964.8,2174.9C967.4,2181.5 970.6,2189 974.3,2195.6C978,2202.2 983.2,2209.3 987,2214.6C990.8,2219.9 993.8,2223.6 997.3,2227.5C1000.8,2231.4 1004.9,2234.9 1008,2237.8C1011.1,2240.7 1011.9,2241.6 1015.9,2244.8C1019.9,2248 1026.4,2253.1 1031.7,2257C1037,2260.9 1042.3,2264.5 1047.6,2268C1052.9,2271.5 1058.2,2274.8 1063.5,2278.2C1068.8,2281.6 1074.1,2285.1 1079.4,2288.3C1084.7,2291.5 1089.9,2294.4 1095.2,2297.3C1100.5,2300.2 1105.8,2302.9 1111.1,2305.5C1116.4,2308.1 1121.7,2310.6 1127,2312.8C1132.3,2315 1137.6,2317 1142.9,2318.6C1148.2,2320.2 1153.4,2321.3 1158.7,2322.3C1164,2323.3 1169.3,2324.2 1174.6,2324.8C1179.9,2325.4 1185.2,2325.7 1190.5,2326C1195.8,2326.3 1192.3,2326.3 1206.3,2326.4C1220.3,2326.5 1241.1,2326.6 1274.7,2326.7C1308.3,2326.8 1376.9,2326.6 1408,2326.7C1439.1,2326.8 1452.4,2327.2 1461.3,2327.3" stroke="#fc3c3c"/>
<line x1="917.5" y1="1453.4" x2="1044.7" y2="1453.4" stroke="#757575"/>
<line x1="917.5" y1="1524.3" x2="1044.7" y2="1524.3" stroke="#fc3c3c"/>
</g>
<rect x="909.9" y="1414.1" width="692.1" height="149.9" fill="none" stroke="#000" stroke-width="2" shape-rendering="crispEdges"/>
<rect x="247.5" y="1407.5" width="1363" height="1099" fill="none" stroke="#000" stroke-width="5" shape-rendering="crispEdges"/>
<path d="M247.5,2506.5 V2528 M323.2,2506.5 V2516.5 M398.9,2506.5 V2528 M474.7,2506.5 V2516.5 M550.4,2506.5 V2528 M626.1,2506.5 V2516.5 M701.8,2506.5 V2528 M777.6,2506.5 V2516.5 M853.3,2506.5 V2528 M929,2506.5 V2516.5 M1004.7,2506.5 V2528 M1080.4,2506.5 V2516.5 M1156.2,2506.5 V2528 M1231.9,2506.5 V2516.5 M1307.6,2506.5 V2528 M1383.3,2506.5 V2516.5 M1459.1,2506.5 V2528 M1534.8,2506.5 V2516.5 M1610.5,2506.5 V2528 M247.5,2447.5 H226.5 M247.5,2331.9 H226.5 M247.5,2216.3 H226.5 M247.5,2100.7 H226.5 M247.5,1985.1 H226.5 M247.5,1869.5 H226.5 M247.5,1753.9 H226.5 M247.5,1638.3 H226.5 M247.5,1522.7 H226.5 M247.5,1407.5 H226.5 M247.5,2506.5 H236.5 M247.5,2389.7 H236.5 M247.5,2274.1 H236.5 M247.5,2158.5 H236.5 M247.5,2042.9 H236.5 M247.5,1927.3 H236.5 M247.5,1811.7 H236.5 M247.5,1696.1 H236.5 M247.5,1580.5 H236.5 M247.5,1464.9 H236.5" stroke="#000" stroke-width="5" fill="none" shape-rendering="crispEdges"/>
<g font-family="'Liberation Serif', serif" style="font-kerning:none" fill="#000" font-size="57">
<g text-anchor="end">
<text x="211.5" y="2464.7">20</text>
<text x="211.5" y="2349.1">30</text>
<text x="211.5" y="2233.5">40</text>
<text x="211.5" y="2117.9">50</text>
<text x="211.5" y="2002.3">60</text>
<text x="211.5" y="1886.7">70</text>
<text x="211.5" y="1771.1">80</text>
<text x="211.5" y="1655.5">90</text>
<text x="211.5" y="1539.9">100</text>
<text x="211.5" y="1424.3">110</text>
</g>
<g text-anchor="middle">
<text x="247.5" y="2586.3">0</text>
<text x="398.9" y="2586.3">100</text>
<text x="550.4" y="2586.3">200</text>
<text x="701.8" y="2586.3">300</text>
<text x="853.3" y="2586.3">400</text>
<text x="1004.7" y="2586.3">500</text>
<text x="1156.2" y="2586.3">600</text>
<text x="1307.6" y="2586.3">700</text>
<text x="1459.1" y="2586.3">800</text>
<text x="1610.5" y="2586.3">900</text>
</g>
<text x="710" y="2687.3" font-weight="bold">Temperature (°C)</text>
<text transform="translate(100.9,2100.9) rotate(-90)" font-weight="bold">Weight (%)</text>
<text x="1058.6" y="1473.3" font-size="57.2">poly(VPBA-AAm)</text>
<text x="1058.6" y="1544" font-size="57.2">poly(VPBA-AAm)-CD</text>
<text x="581.8" y="1549.3" textLength="163.7">320 °C</text>
<text x="1120.6" y="2487.3" textLength="163.7">606 °C</text>
<text x="906.3" y="1637.3" fill="#ff0000" textLength="163.7">380 °C</text>
<text x="1289" y="2293.3" fill="#ff0000" textLength="163.7">635 °C</text>
</g>
<line x1="730" y1="1565" x2="733.5" y2="1597.3" stroke="#000" stroke-width="5" shape-rendering="crispEdges"/><polygon points="737.6,1634.2 723.7,1596.4 743,1594.3" fill="#000" shape-rendering="crispEdges"/>
<line x1="1148" y1="2443" x2="1153" y2="2407.9" stroke="#000" stroke-width="5" shape-rendering="crispEdges"/><polygon points="1158.2,2371.2 1162.3,2411.3 1143.1,2408.6" fill="#000" shape-rendering="crispEdges"/>
<line x1="902.3" y1="1618.3" x2="847.4" y2="1643.6" stroke="#ff0000" stroke-width="5" shape-rendering="crispEdges"/><polygon points="813.7,1659.1 845.2,1633.9 853.3,1651.5" fill="#ff0000" shape-rendering="crispEdges"/>
<line x1="1280.7" y1="2285.7" x2="1226.9" y2="2310.4" stroke="#ff0000" stroke-width="5" shape-rendering="crispEdges"/><polygon points="1193.1,2325.9 1224.6,2300.7 1232.7,2318.4" fill="#ff0000" shape-rendering="crispEdges"/>
</svg>
</body></html>
